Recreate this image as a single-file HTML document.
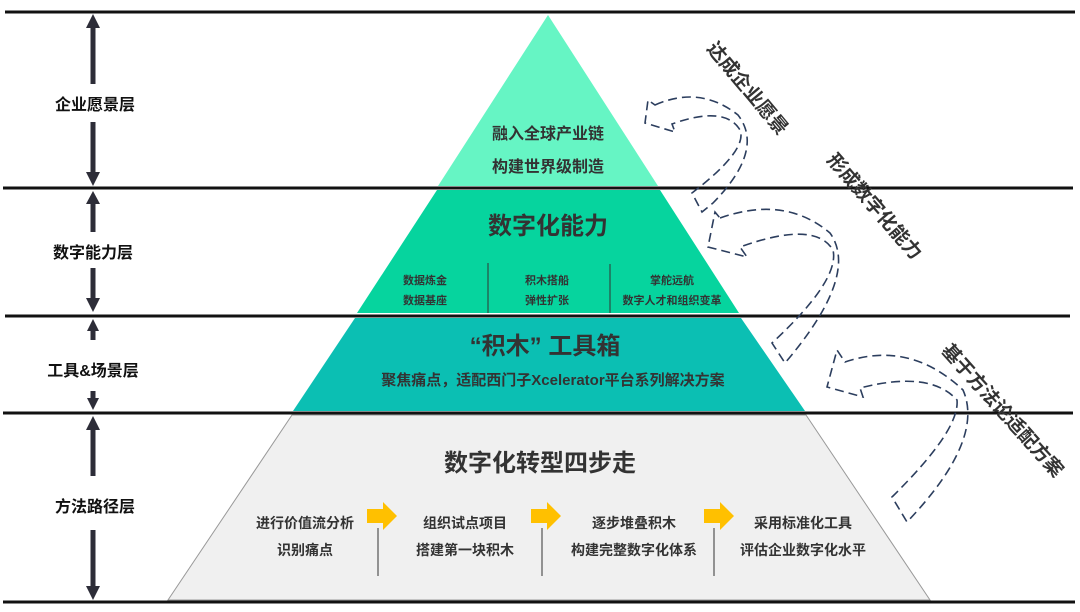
<!DOCTYPE html>
<html><head><meta charset="utf-8"><style>
html,body{margin:0;padding:0;background:#fff}
body{width:1080px;height:612px;overflow:hidden;position:relative;font-family:"Liberation Sans","Noto Sans CJK SC",sans-serif}
svg{position:absolute;left:0;top:0}
text{font-family:"Liberation Sans","Noto Sans CJK SC",sans-serif;font-weight:bold;fill:#333}
</style></head><body>
<svg width="1080" height="612" viewBox="0 0 1080 612">
<polygon points="548,15 658,186 438,186" fill="#66f5c4"/>
<polygon points="437,190 660,190 739,313 357,313" fill="#06d49e"/>
<polygon points="355,318 741,318 805,411 293,411" fill="#0bbfb3"/>
<polygon points="292,415 806,415 930,600 168,600" fill="#f0f0f0" stroke="#999" stroke-width="1"/>
<g stroke="#111" stroke-width="3">
<line x1="5" y1="12" x2="1075" y2="12"/>
<line x1="3" y1="188" x2="1073" y2="188"/>
<line x1="5" y1="316" x2="1070" y2="316"/>
<line x1="3" y1="413" x2="1073" y2="413"/>
<line x1="3" y1="602" x2="1075" y2="602"/>
</g>
<g fill="#2d2d38">
<polygon points="93,14 86,28 90.5,28 90.5,84 95.5,84 95.5,28 100,28"/>
<polygon points="93,186 86,172 90.5,172 90.5,122 95.5,122 95.5,172 100,172"/>
<polygon points="93,191 86,204 90.5,204 90.5,232 95.5,232 95.5,204 100,204"/>
<polygon points="93,312 86,298 90.5,298 90.5,268 95.5,268 95.5,298 100,298"/>
<polygon points="93,319 87,331 90.5,331 90.5,340 95.5,340 95.5,331 99,331"/>
<polygon points="93,410 87,398 90.5,398 90.5,391 95.5,391 95.5,398 99,398"/>
<polygon points="93,416 86,430 90.5,430 90.5,476 95.5,476 95.5,430 100,430"/>
<polygon points="93,600 86,586 90.5,586 90.5,530 95.5,530 95.5,586 100,586"/>
</g>
<g font-size="16" text-anchor="middle">
<text x="95" y="110" style="fill:#111">企业愿景层</text>
<text x="93" y="258" style="fill:#111">数字能力层</text>
<text x="93" y="376" style="fill:#111">工具&amp;场景层</text>
<text x="95" y="512" style="fill:#111">方法路径层</text>
</g>
<text x="548" y="139" font-size="16" text-anchor="middle">融入全球产业链</text>
<text x="548" y="172" font-size="16" text-anchor="middle">构建世界级制造</text>
<text x="548" y="234" font-size="24" text-anchor="middle">数字化能力</text>
<g stroke="#333" stroke-width="1"><line x1="488" y1="263" x2="488" y2="313"/><line x1="610" y1="264" x2="610" y2="313"/></g>
<g font-size="11" text-anchor="middle">
<text x="425" y="284">数据炼金</text><text x="425" y="304">数据基座</text>
<text x="547" y="284">积木搭船</text><text x="547" y="304">弹性扩张</text>
<text x="672" y="284">掌舵远航</text><text x="672" y="304">数字人才和组织变革</text>
</g>
<text x="545" y="354" font-size="24" text-anchor="middle">“积木” 工具箱</text>
<text x="553" y="385" font-size="15" text-anchor="middle">聚焦痛点，适配西门子Xcelerator平台系列解决方案</text>
<text x="540" y="471" font-size="24" text-anchor="middle">数字化转型四步走</text>
<g font-size="14" text-anchor="middle">
<text x="305" y="528">进行价值流分析</text><text x="305" y="555">识别痛点</text>
<text x="465" y="528">组织试点项目</text><text x="465" y="555">搭建第一块积木</text>
<text x="634" y="528">逐步堆叠积木</text><text x="634" y="555">构建完整数字化体系</text>
<text x="803" y="528">采用标准化工具</text><text x="803" y="555">评估企业数字化水平</text>
</g>
<g fill="#ffc000">
<polygon points="367,509 383,509 383,502 397,516 383,530 383,523 367,523"/>
<polygon points="531,509 547,509 547,502 561,516 547,530 547,523 531,523"/>
<polygon points="704,509 720,509 720,502 734,516 720,530 720,523 704,523"/>
</g>
<g stroke="#333" stroke-width="1"><line x1="378" y1="528" x2="378" y2="576"/><line x1="542" y1="528" x2="542" y2="576"/><line x1="714" y1="528" x2="714" y2="576"/></g>
<g fill="none" stroke="#2c3e5e" stroke-width="1.6" stroke-dasharray="9,5">
<path d="M655,105 Q700,85 738,115 Q765,150 713,203 L702,212 L692,193 Q748,150 740,130 Q725,105 672,124 L675,132 L645,123 L648,100 Z"/>
<path d="M720,218 Q785,195 830,233 Q860,275 785,363 L772,343 Q840,280 833,250 Q815,220 740,247 L747,257 L708,247 L715,212 Z"/>
<path d="M845,362 Q910,340 963,390 Q985,440 907,522 L892,497 Q960,430 957,400 Q930,370 860,388 L863,397 L827,387 L837,350 Z"/>
</g>
<text x="748" y="95" font-size="19" text-anchor="middle" transform="rotate(50 748 88)">达成企业愿景</text>
<text x="875" y="213" font-size="19" text-anchor="middle" transform="rotate(49 875 206)">形成数字化能力</text>
<text x="1003" y="417" font-size="19" text-anchor="middle" transform="rotate(48 1003 410)">基于方法论适配方案</text>
</svg>
</body></html>
